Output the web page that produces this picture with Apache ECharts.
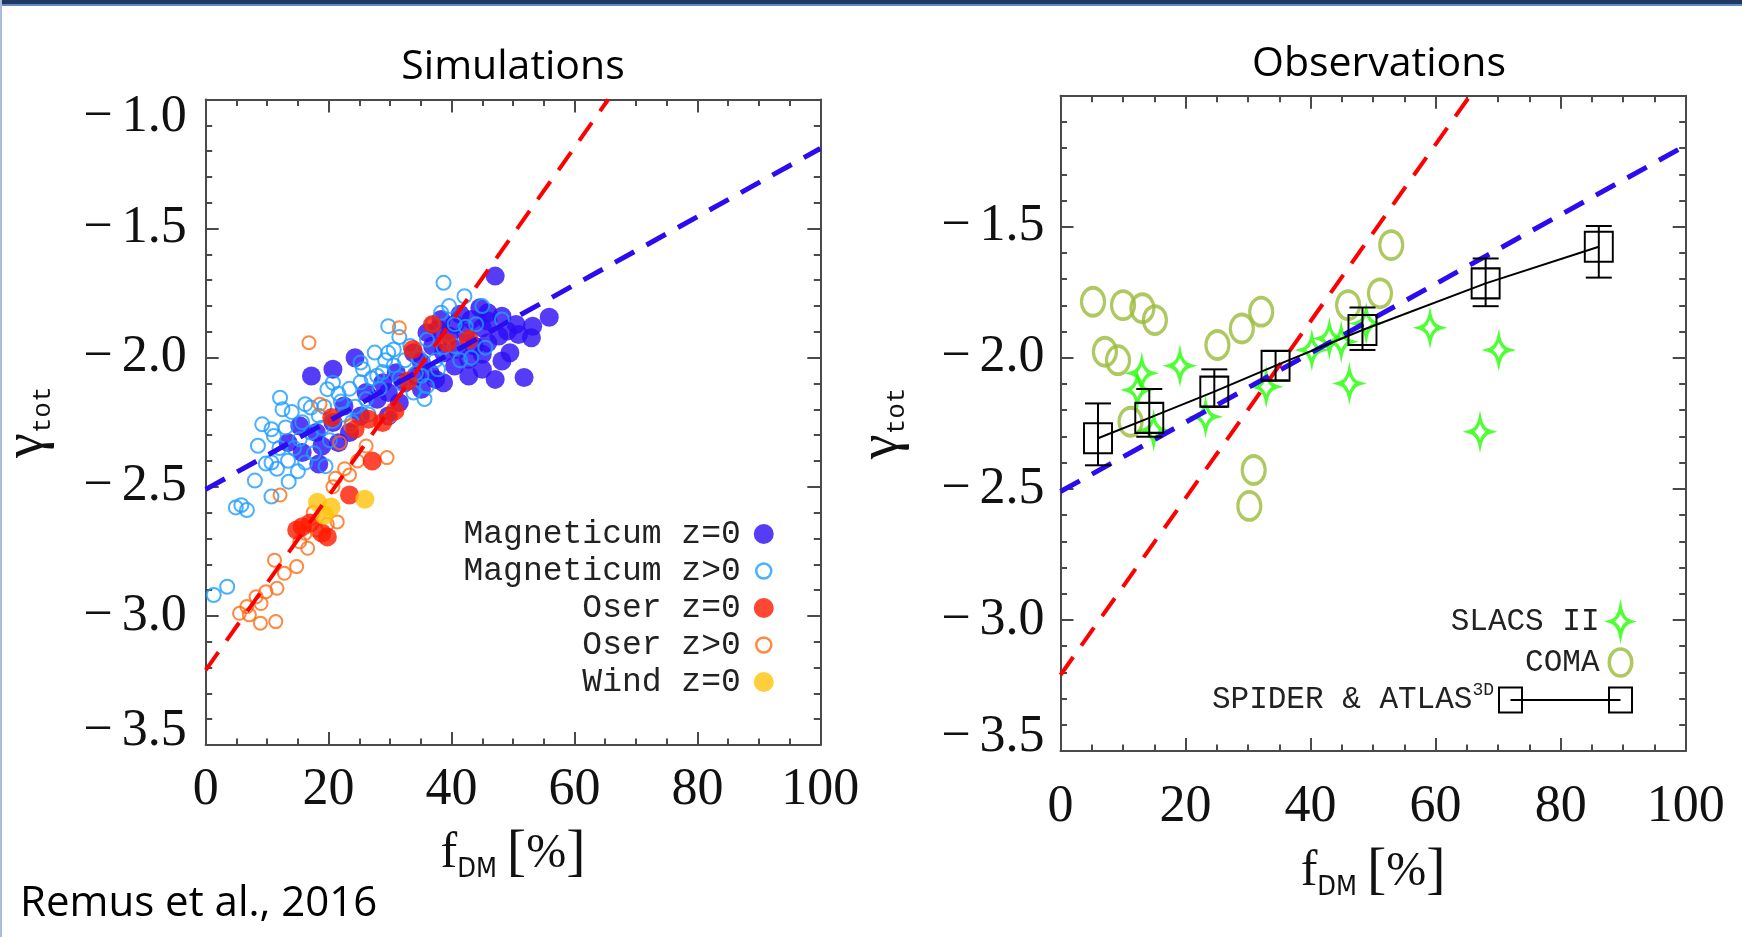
<!DOCTYPE html>
<html>
<head>
<meta charset="utf-8">
<title>gamma_tot vs f_DM</title>
<script src="https://cdn.jsdelivr.net/npm/echarts@6/dist/echarts.min.js"></script>
<style>
    html, body { margin: 0; padding: 0; background: #fff; }
    #main { width: 1742px; height: 937px; }
</style>
</head>
<body>
<div id="main"></div>
<script>
    // axis ranges (both panels share them)
    const X_MIN = 0, X_MAX = 100, X_STEP = 20;
    const Y_MIN = -3.5, Y_MAX = -1.0, Y_STEP = 0.5;

    // ---- Simulations panel : [f_DM (%), gamma_tot]
    const magZ0 = [
        [47.1,-1.684],[55.9,-1.843],[45.9,-1.826],[48.2,-1.839],[50.5,-1.871],[49.1,-1.897],[53.0,-1.923],
        [50.9,-1.910],[47.7,-1.916],[45.0,-1.884],[43.2,-1.852],[42.3,-1.903],[40.5,-1.871],[39.6,-1.916],
        [37.8,-1.890],[36.9,-1.955],[38.7,-1.981],[41.0,-1.968],[43.7,-1.955],[45.9,-1.942],[48.2,-2.013],
        [45.0,-1.987],[42.8,-2.006],[40.5,-2.032],[42.8,-2.071],[47.1,-2.084],[51.8,-2.077],[38.7,-2.097],
        [36.5,-2.058],[35.1,-2.019],[33.8,-1.981],[34.2,-2.071],[32.4,-2.097],[31.0,-2.058],[29.7,-2.135],
        [27.9,-2.161],[28.8,-2.097],[26.1,-2.135],[24.3,-2.000],[20.7,-2.045],[17.2,-2.071],[22.5,-2.187],
        [25.2,-2.226],[20.7,-2.251],[18.0,-2.290],[15.3,-2.264],[13.4,-2.329],[15.7,-2.367],[18.4,-2.412],
        [18.9,-2.342],[21.6,-2.329],[23.4,-2.290],[29.7,-2.226],[31.5,-2.174],[35.1,-2.122],[37.4,-2.084],
        [45.0,-2.045],[49.5,-1.981],[53.2,-1.878],[45.9,-1.858],[41.4,-1.832],[44.6,-1.807],[38.3,-1.852],
        [36.0,-1.903]
    ];
    const magZgt0 = [
        [38.7,-1.710],[42.1,-1.762],[38.3,-1.826],[40.5,-1.870],[44.0,-1.870],[48.2,-1.852],[43.2,-2.000],
        [45.5,-1.961],[29.7,-1.878],[31.5,-1.920],[29.7,-1.981],[29.2,-2.010],[30.6,-2.030],[25.2,-2.019],
        [25.6,-2.045],[27.9,-2.070],[31.5,-2.080],[35.1,-2.070],[36.0,-2.110],[33.8,-2.135],[37.8,-2.045],
        [20.7,-2.097],[19.8,-2.122],[12.1,-2.155],[12.5,-2.200],[16.2,-2.180],[17.1,-2.193],[9.2,-2.258],
        [10.7,-2.277],[11.1,-2.303],[8.5,-2.341],[10.7,-2.406],[13.4,-2.399],[16.2,-2.406],[15.3,-2.316],
        [17.1,-2.290],[18.9,-2.271],[20.7,-2.245],[22.5,-2.220],[24.3,-2.190],[26.1,-2.160],[18.4,-2.225],
        [21.6,-2.140],[23.4,-2.120],[25.2,-2.095],[27.0,-2.080],[28.8,-2.055],[30.6,-1.968],[33.3,-1.955],
        [36.0,-1.930],[32.4,-2.010],[34.7,-2.000],[37.4,-2.010],[40.5,-1.955],[41.4,-2.010],[35.6,-2.160],
        [8.0,-2.476],[5.8,-2.571],[4.9,-2.580],[6.7,-2.590],[10.7,-2.538],[3.5,-2.887],[1.3,-2.919],
        [11.6,-2.430],[14.4,-2.350],[13.0,-2.270],[15.7,-2.250],[19.3,-2.190],[22.0,-2.170],[23.8,-2.250],
        [26.5,-2.220],[28.3,-2.120],[31.9,-2.100],[34.2,-2.060],[38.7,-1.960],[42.3,-1.880],[45.0,-1.800],
        [39.6,-1.800],[36.9,-1.870],[27.5,-1.980],[14.0,-2.210],[12.0,-2.350],[17.6,-2.370],[20.2,-2.320],
        [9.8,-2.410],[15.0,-2.440],[19.5,-2.420],[13.5,-2.480]
    ];
    const oserZ0 = [
        [36.9,-1.871],[39.3,-1.942],[42.8,-1.929],[33.7,-1.968],[32.9,-2.090],[30.8,-2.206],[26.5,-2.238],
        [28.8,-2.251],[20.5,-2.232],[24.3,-2.277],[27.1,-2.400],[23.4,-2.532],[15.7,-2.655],[17.0,-2.640],
        [18.9,-2.679],[19.8,-2.694],[14.8,-2.667]
    ];
    const oserZgt0 = [
        [16.8,-1.942],[31.5,-1.884],[18.6,-2.180],[30.1,-2.226],[23.6,-2.264],[21.8,-2.329],[26.1,-2.342],
        [24.7,-2.400],[29.5,-2.387],[23.4,-2.454],[21.1,-2.467],[20.7,-2.500],[12.1,-2.532],[21.4,-2.636],
        [19.8,-2.645],[18.0,-2.667],[16.2,-2.680],[15.3,-2.713],[16.6,-2.738],[11.2,-2.784],[14.8,-2.809],
        [12.8,-2.835],[11.6,-2.893],[9.8,-2.906],[8.2,-2.926],[9.0,-2.952],[6.7,-2.964],[5.5,-2.990],
        [7.1,-2.996],[8.9,-3.028],[11.4,-3.022],[22.6,-2.430],[17.5,-2.600]
    ];
    const windZ0 = [[18.2,-2.560],[20.4,-2.578],[19.3,-2.610],[25.9,-2.548]];

    // dashed relations, drawn in both panels
    const fitRed = [[0,-3.21],[65.5,-1.0]];
    const fitBlue = [[0,-2.51],[100,-1.19]];

    // ---- Observations panel
    const slacs = [
        [13.0,-2.059],[12.3,-2.123],[14.9,-2.276],[19.1,-2.030],[23.2,-2.225],[32.9,-2.110],[40.2,-1.970],
        [43.0,-1.926],[44.9,-1.939],[46.2,-2.098],[48.9,-1.869],[59.1,-1.885],[67.1,-2.282],[70.1,-1.970]
    ];
    const coma = [
        [5.2,-1.786],[10.0,-1.799],[13.1,-1.811],[15.1,-1.856],[7.1,-1.977],[9.2,-2.009],[11.2,-2.244],
        [25.1,-1.951],[29.0,-1.888],[32.1,-1.824],[46.0,-1.799],[51.1,-1.754],[52.9,-1.570],[30.9,-2.428],
        [30.2,-2.565]
    ];
    const spiderX  = [6.0, 14.2, 24.6, 34.4, 48.3, 68.0, 86.1];
    const spiderY  = [-2.307, -2.229, -2.129, -2.030, -1.894, -1.716, -1.576];
    const spiderLo = [-2.410, -2.301, -2.187, -2.086, -1.970, -1.803, -1.694];
    const spiderHi = [-2.174, -2.119, -2.044, -1.974, -1.808, -1.621, -1.497];

    // styles
    const axisColor = '#4a4a4a';
    const serifFont = "'Liberation Serif', 'Times New Roman', serif";
    const monoFont = "'Liberation Mono', 'Courier New', monospace";
    const sansFont = "'Open Sans', 'Noto Sans', sans-serif";
    const NONE = 'rgba(0,0,0,0)';
    const TICK_SIZE = 52;

    const ellipsePath = 'path://M10,0A10,12,0,1,1,10,24A10,12,0,1,1,10,0Z';
    const smallRing = 'path://M0,0M20,20M2.5,10A7.5,7.5,0,1,1,17.5,10A7.5,7.5,0,1,1,2.5,10Z';
    const starPath = 'path://M10,0Q12.2,11.3,20,13.5Q12.2,15.7,10,27Q7.8,15.7,0,13.5Q7.8,11.3,10,0Z';
    const spiderIcon = 'path://M0,0H23V25H0ZM11.5,12.5H121.5M110,0H133V25H110Z';

    // y tick text: long minus kept apart from the digits, end labels nudged inwards
    function fmtY(v) {
        let k = '';
        if (Math.abs(v - Y_MIN) < 1e-9) k = 'l';
        if (Math.abs(v - Y_MAX) < 1e-9) k = 'h';
        return '{m' + k + '|' + (v < 0 ? '\u2212' : '') + '}{n' + k + '|' + Math.abs(v).toFixed(1) + '}';
    }
    function tickTok(pad) {
        return {fontFamily: serifFont, fontSize: TICK_SIZE, color: '#111', padding: pad};
    }
    const yTickRich = {
        m: tickTok([0, 9, 0, 0]),   n: tickTok([0, 0, 0, 0]),
        ml: tickTok([0, 9, 28, 0]), nl: tickTok([0, 0, 28, 0]),
        mh: tickTok([36, 9, 0, 0]), nh: tickTok([36, 0, 0, 0])
    };

    const frameLine = {onZero: false, lineStyle: {color: axisColor, width: 2}};
    const majorTick = {inside: true, length: 13, lineStyle: {color: axisColor, width: 2}};
    function minor(n) {
        return {show: true, splitNumber: n, length: 6.5, lineStyle: {color: axisColor, width: 2}};
    }

    const xNameRich = {
        f: {fontFamily: serifFont, fontSize: 50, color: '#111'},
        d: {fontFamily: "'Liberation Sans Narrow', 'DejaVu Sans Condensed', sans-serif", fontSize: 27,
            color: '#111', verticalAlign: 'bottom', lineHeight: 27},
        b: {fontFamily: serifFont, fontSize: 58, color: '#111'},
        p: {fontFamily: serifFont, fontSize: 48, color: '#111'}
    };
    const yNameRich = {
        g: {fontFamily: serifFont, fontSize: 56, color: '#111'},
        t: {fontFamily: monoFont, fontSize: 26, color: '#111', verticalAlign: 'bottom', lineHeight: 26}
    };

    function xAxes(g, nameGap, labelMargin) {
        return [{
            type: 'value', gridIndex: g, min: X_MIN, max: X_MAX, interval: X_STEP, position: 'bottom',
            name: '{f|f}{d|DM} {b|[}{p|%}{b|]}', nameLocation: 'middle', nameGap: nameGap,
            nameMoveOverlap: false,
            nameTextStyle: {fontFamily: serifFont, fontSize: 40, color: '#111', rich: xNameRich},
            axisLine: frameLine, axisTick: majorTick, minorTick: minor(4), splitLine: {show: false},
            axisLabel: {margin: labelMargin, color: '#111', fontFamily: serifFont, fontSize: TICK_SIZE}
        }, {
            type: 'value', gridIndex: g, min: X_MIN, max: X_MAX, interval: X_STEP, position: 'top',
            axisLine: frameLine, axisTick: majorTick, minorTick: minor(4), splitLine: {show: false},
            axisLabel: {show: false}
        }];
    }

    function yAxes(g, nameGap, labelMargin, showMax) {
        return [{
            type: 'value', gridIndex: g, min: Y_MIN, max: Y_MAX, interval: Y_STEP, position: 'left',
            name: '{g|\u03b3}{t|tot}', nameLocation: 'middle', nameGap: nameGap, nameRotate: 90,
            nameMoveOverlap: false,
            nameTextStyle: {fontFamily: serifFont, fontSize: 40, color: '#111', rich: yNameRich},
            axisLine: frameLine, axisTick: majorTick, minorTick: minor(5), splitLine: {show: false},
            axisLabel: {
                margin: labelMargin, color: '#111', fontFamily: serifFont, fontSize: TICK_SIZE,
                formatter: fmtY, rich: yTickRich, showMaxLabel: showMax
            }
        }, {
            type: 'value', gridIndex: g, min: Y_MIN, max: Y_MAX, interval: Y_STEP, position: 'right',
            axisLine: frameLine, axisTick: majorTick, minorTick: minor(5), splitLine: {show: false},
            axisLabel: {show: false}
        }];
    }

    function scatter(name, data, xi, symbol, size, itemStyle, z) {
        return {
            name: name, type: 'scatter', data: data, xAxisIndex: xi, yAxisIndex: xi,
            symbol: symbol, symbolSize: size, itemStyle: itemStyle, z: z, silent: true
        };
    }

    function dashed(data, xi, color, width) {
        return {
            type: 'line', data: data, xAxisIndex: xi, yAxisIndex: xi, showSymbol: false, silent: true,
            z: 6, lineStyle: {color: color, width: width, type: [22, 14]}
        };
    }

    const chart = echarts.init(document.getElementById('main'));

    const titleText = {fontFamily: sansFont, fontSize: 41, fontWeight: 'normal', color: '#000'};

    const option = {
        animation: false,
        backgroundColor: '#fff',
        graphic: [
            {type: 'rect', shape: {x: 0, y: 0, width: 1742, height: 4}, style: {fill: '#1f3864'}},
            {type: 'rect', shape: {x: 0, y: 4, width: 1742, height: 2}, style: {fill: '#6a88bb'}},
            {type: 'rect', shape: {x: 0, y: 0, width: 2, height: 937}, style: {fill: '#a9bcd9'}}
        ],
        title: [
            {text: 'Simulations', left: 513, top: 67, textAlign: 'center', textVerticalAlign: 'middle',
                padding: 0, textStyle: titleText},
            {text: 'Observations', left: 1379, top: 64, textAlign: 'center', textVerticalAlign: 'middle',
                padding: 0, textStyle: titleText},
            {text: 'Remus et al., 2016', left: 20, top: 904, textAlign: 'left', textVerticalAlign: 'middle',
                padding: 0, textStyle: {fontFamily: sansFont, fontSize: 42, fontWeight: 'normal', color: '#000'}}
        ],
        grid: [
            {left: 205.7, top: 99.5, width: 614.6, height: 645.5, outerBoundsMode: 'none'},
            {left: 1060.5, top: 95.7, width: 625.2, height: 655.3, outerBoundsMode: 'none'}
        ],
        xAxis: [].concat(xAxes(0, 80, 19), xAxes(1, 92, 30)),
        yAxis: [].concat(yAxes(0, 150, 19, true), yAxes(1, 150, 16, false)),
        legend: [{
            orient: 'vertical', align: 'right', right: 967, top: 516, padding: 0,
            itemWidth: 36, itemHeight: 20, itemGap: 1, selectedMode: false,
            textStyle: {fontFamily: monoFont, fontSize: 33, color: '#222', lineHeight: 36},
            data: [
                {name: 'Magneticum z=0', icon: 'circle', itemStyle: {color: '#2a0cf5', borderWidth: 0}},
                {name: 'Magneticum z>0', icon: smallRing, itemStyle: {color: NONE, borderColor: '#1e9cff', borderWidth: 2.5}},
                {name: 'Oser z=0', icon: 'circle', itemStyle: {color: '#ff1a00', borderWidth: 0}},
                {name: 'Oser z>0', icon: smallRing, itemStyle: {color: NONE, borderColor: '#ff6a13', borderWidth: 2.5}},
                {name: 'Wind z=0', icon: 'circle', itemStyle: {color: '#ffc30a', borderWidth: 0}}
            ]
        }, {
            orient: 'vertical', align: 'right', right: 108.5, top: 603, padding: 0,
            itemWidth: 32, itemHeight: 27, itemGap: 4, selectedMode: false,
            textStyle: {fontFamily: monoFont, fontSize: 31, color: '#222', lineHeight: 37},
            data: [
                {name: 'SLACS II', icon: starPath, itemStyle: {color: NONE, borderColor: '#22ff00', borderWidth: 3.5}},
                {name: 'COMA', icon: ellipsePath, itemStyle: {color: NONE, borderColor: '#9bbb3b', borderWidth: 3.5}}
            ]
        }, {
            orient: 'vertical', align: 'right', right: 109, top: 681, padding: 0,
            itemWidth: 133, itemHeight: 25, selectedMode: false,
            formatter: function (name) {
                return '{a|SPIDER & ATLAS}{s|3D}';
            },
            textStyle: {
                fontFamily: monoFont, fontSize: 31, color: '#222', lineHeight: 38,
                rich: {
                    a: {fontFamily: monoFont, fontSize: 31, color: '#222', lineHeight: 38},
                    s: {fontFamily: monoFont, fontSize: 18, color: '#222', lineHeight: 18, verticalAlign: 'top'}
                }
            },
            data: [
                {name: 'SPIDER & ATLAS3D', icon: spiderIcon, itemStyle: {color: NONE, borderColor: '#000', borderWidth: 2}}
            ]
        }],
        series: [
            // Simulations
            scatter('Magneticum z=0', magZ0, 0, 'circle', 19, {color: '#2a0cf5'}, 2),
            scatter('Magneticum z>0', magZgt0, 0, 'circle', 14,
                {color: NONE, borderColor: '#1e9cff', borderWidth: 2}, 3),
            scatter('Oser z>0', oserZgt0, 0, 'circle', 13,
                {color: NONE, borderColor: '#ff6a13', borderWidth: 2}, 3),
            scatter('Oser z=0', oserZ0, 0, 'circle', 19, {color: '#ff1a00'}, 4),
            scatter('Wind z=0', windZ0, 0, 'circle', 19, {color: '#ffc30a'}, 4),
            dashed(fitRed, 0, '#ff0000', 4),
            dashed(fitBlue, 0, '#2b0cf0', 5),

            // Observations
            scatter('COMA', coma, 2, ellipsePath, [23, 28],
                {color: NONE, borderColor: '#9bbb3b', borderWidth: 3.5}, 2),
            scatter('SLACS II', slacs, 2, starPath, [20, 27],
                {color: NONE, borderColor: '#22ff00', borderWidth: 3.5}, 3),
            dashed(fitRed, 2, '#ff0000', 4),
            dashed(fitBlue, 2, '#2b0cf0', 5),
            {
                name: 'SPIDER errors', type: 'custom', xAxisIndex: 2, yAxisIndex: 2, z: 7, silent: true,
                data: spiderX.map(function (x, i) { return [x, spiderLo[i], spiderHi[i]]; }),
                encode: {x: 0, y: [1, 2]},
                renderItem: function (params, api) {
                    const lo = api.coord([api.value(0), api.value(1)]);
                    const hi = api.coord([api.value(0), api.value(2)]);
                    const half = 13;
                    const style = {stroke: '#000', lineWidth: 2};
                    return {
                        type: 'group',
                        children: [
                            {type: 'line', shape: {x1: lo[0], y1: lo[1], x2: hi[0], y2: hi[1]}, style: style},
                            {type: 'line', shape: {x1: lo[0] - half, y1: lo[1], x2: lo[0] + half, y2: lo[1]}, style: style},
                            {type: 'line', shape: {x1: hi[0] - half, y1: hi[1], x2: hi[0] + half, y2: hi[1]}, style: style}
                        ]
                    };
                }
            },
            {
                name: 'SPIDER & ATLAS3D', type: 'line', xAxisIndex: 2, yAxisIndex: 2, z: 8, silent: true,
                data: spiderX.map(function (x, i) { return [x, spiderY[i]]; }),
                symbol: 'rect', symbolSize: [28, 30], showSymbol: true,
                itemStyle: {color: NONE, borderColor: '#000', borderWidth: 2},
                lineStyle: {color: '#000', width: 2}
            }
        ]
    };

    chart.setOption(option);
</script>
</body>
</html>
